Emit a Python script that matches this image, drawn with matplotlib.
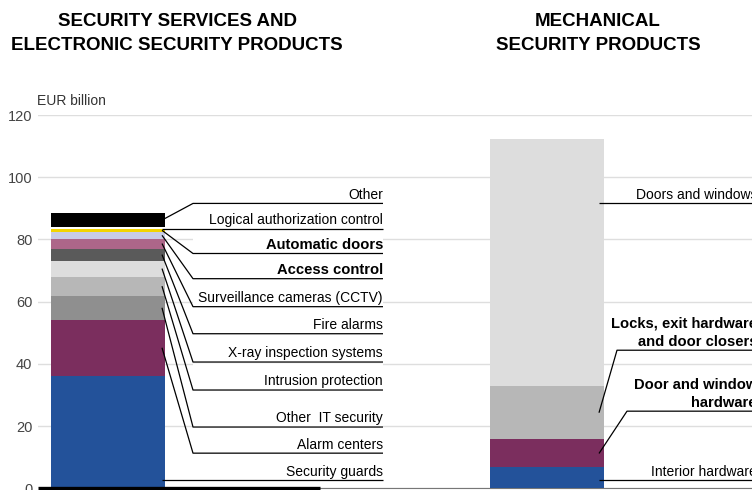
import numpy as np
import matplotlib
matplotlib.use('Agg')
from matplotlib import pyplot as plt
from matplotlib.patches import Rectangle

plt.rcParams['font.family'] = ['Liberation Sans', 'DejaVu Sans']

# left stack, bottom to top
sec_labels = ['Security guards', 'Alarm centers', 'Other  IT security',
              'Intrusion protection', 'X-ray inspection systems', 'Fire alarms',
              'Surveillance cameras (CCTV)', 'Access control', 'Automatic doors',
              'Logical authorization control', 'Other']
sec_values = [36.2, 18.0, 7.7, 6.2, 5.1, 3.9, 3.2, 2.1, 1.1, 0.6, 4.3]
sec_colors = ['#23529a', '#7b2e5e', '#8f8f8f', '#b7b7b7', '#dddddd', '#5a5a5a',
              '#ad6689', '#c8cce6', '#f2d400', '#ffffff', '#000000']
sec_bold = ['Access control', 'Automatic doors']

# right stack, bottom to top
mech_labels = ['Interior hardware', 'Door and window\nhardware',
               'Locks, exit hardware\nand door closers', 'Doors and windows']
mech_values = [6.7, 9.0, 17.2, 79.4]
mech_colors = ['#23529a', '#7b2e5e', '#b7b7b7', '#dddddd']
mech_bold = ['Door and window\nhardware', 'Locks, exit hardware\nand door closers']

# layout (label underline heights in axis units, x in pixels)
sec_rows = [2.6, 11.3, 19.7, 31.6, 40.6, 49.7, 58.4, 67.4, 75.5, 83.5, 91.6]
sec_straight = ['Security guards', 'Logical authorization control']
mech_rows = [2.6, 24.8, 44.4, 91.6]
mech_line_x0 = [None, 627, 617, None]
mech_straight = ['Interior hardware', 'Doors and windows']

W, H = 752, 490
X0 = 38


def px(x):
    return x - X0


fig = plt.figure(figsize=(W / 100, H / 100), dpi=100)
ax = fig.add_axes([X0 / W, (H - 488.3) / H, (W - X0) / W, (488.3 - 115.1) / H])
ax.set_xlim(0, W - X0)
ax.set_ylim(0, 120)
ax.set_yticks(np.arange(0, 121, 20))
ax.set_xticks([])
ax.tick_params(axis='y', length=0, pad=4, labelsize=10.5, labelcolor='#444444')
for s in ax.spines.values():
    s.set_visible(False)
ax.grid(axis='y', color='#dedede', lw=1, zorder=0)
ax.set_axisbelow(True)

bar_w = 114
left_x = px(51) + bar_w / 2
right_x = px(490) + bar_w / 2

# left bar
bottoms = np.concatenate([[0], np.cumsum(sec_values)[:-1]])
ax.bar(left_x, sec_values, bar_w, bottom=bottoms, color=sec_colors, zorder=2)

lab_x0, lab_x1 = px(193), px(383)
for i, (lab, v, b) in enumerate(zip(sec_labels, sec_values, bottoms)):
    row = sec_rows[i]
    top = sec_rows[i + 1] if i + 1 < len(sec_rows) else row + 7
    ax.add_patch(Rectangle((lab_x0, row), lab_x1 - lab_x0, min(8.5, top - row),
                           facecolor='white', edgecolor='none', zorder=1))
    start_x = px(162)
    if lab in sec_straight:
        xs = [start_x, lab_x1]
        ys = [row, row]
    else:
        xs = [start_x, lab_x0, lab_x1]
        ys = [b + v / 2, row, row]
    ax.plot(xs, ys, color='black', lw=0.9, zorder=3, solid_capstyle='butt')
    bold = lab in sec_bold
    ax.text(lab_x1, row + 0.5, lab, ha='right', va='bottom',
            fontsize=10.6 if bold else 10, color='black',
            fontweight='bold' if bold else 'normal', zorder=4)

# right bar
bottoms = np.concatenate([[0], np.cumsum(mech_values)[:-1]])
ax.bar(right_x, mech_values, bar_w, bottom=bottoms, color=mech_colors, zorder=2)

for i, (lab, v, b) in enumerate(zip(mech_labels, mech_values, bottoms)):
    row = mech_rows[i]
    start_x = px(599)
    end_x = px(W + 5)
    if lab in mech_straight:
        xs = [start_x, end_x]
        ys = [row, row]
    else:
        xs = [start_x, px(mech_line_x0[i]), end_x]
        ys = [b + v / 2, row, row]
    ax.plot(xs, ys, color='black', lw=0.9, zorder=3, clip_on=False,
            solid_capstyle='butt')
    bold = lab in mech_bold
    ax.text(px(757), row + 0.5, lab, ha='right', va='bottom',
            fontsize=10.6 if bold else 10, color='black', linespacing=1.35,
            clip_on=False, fontweight='bold' if bold else 'normal', zorder=4)

# baseline
ax.plot([0, px(320)], [0, 0], color='black', lw=2.4, zorder=5, clip_on=False,
        solid_capstyle='butt')
ax.plot([px(320), px(W)], [0, 0], color='#777777', lw=0.8, zorder=1,
        clip_on=False)

ax.text(px(37), 122.3, 'EUR billion', fontsize=10, color='#333333',
        ha='left', va='bottom', clip_on=False)

fig.text(177 / W, 1 - 13 / H, 'SECURITY SERVICES AND\nELECTRONIC SECURITY PRODUCTS',
         ha='center', va='top', fontsize=13.5, fontweight='bold', linespacing=1.55)
fig.text(598 / W, 1 - 13 / H, 'MECHANICAL\nSECURITY PRODUCTS',
         ha='center', va='top', fontsize=13.5, fontweight='bold', linespacing=1.55)

fig.savefig('out.png', dpi=100)
